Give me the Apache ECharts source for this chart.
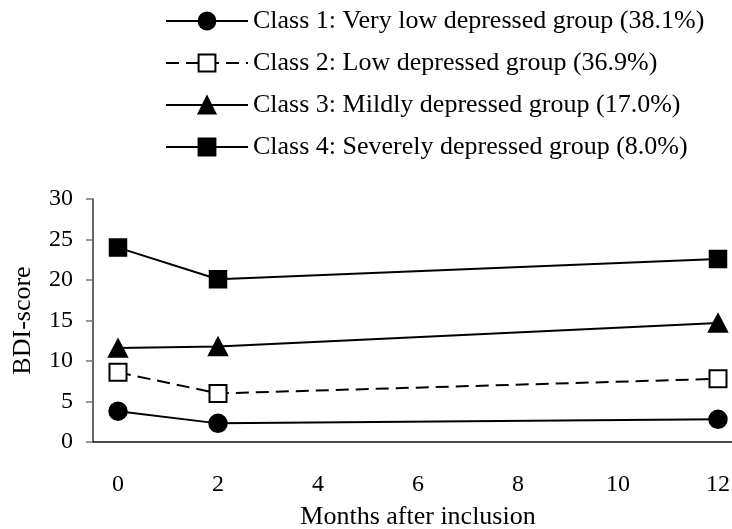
<!DOCTYPE html>
<html>
<head>
<meta charset="utf-8">
<script src="https://cdn.jsdelivr.net/npm/echarts@6/dist/echarts.min.js"></script>
<style>
html, body { margin: 0; padding: 0; background: #fff; }
#chart { width: 732px; height: 529px; }
</style>
</head>
<body>
<div id="chart"></div>
<script>
var months = ['0', '1', '2', '3', '4', '5', '6', '7', '8', '9', '10', '11', '12'];
var measured = ['0', '2', '12'];

var names = [
    'Class 1: Very low depressed group (38.1%)',
    'Class 2: Low depressed group (36.9%)',
    'Class 3: Mildly depressed group (17.0%)',
    'Class 4: Severely depressed group (8.0%)'
];
var class1 = [3.8, 2.3, 2.8];
var class2 = [8.6, 6.0, 7.8];
var class3 = [11.6, 11.8, 14.7];
var class4 = [24.0, 20.1, 22.6];

var FONT = '"Liberation Serif", "Times New Roman", serif';

function pairs(vals) {
    return measured.map(function (m, i) { return [m, vals[i]]; });
}

function makeSeries(name, vals, symbol, size, dashed) {
    return {
        name: name,
        type: 'line',
        data: pairs(vals),
        symbol: symbol,
        symbolSize: size,
        color: '#000',
        lineStyle: { color: '#000', width: 2, type: dashed ? [13, 7] : 'solid' },
        itemStyle: { color: '#000', borderColor: '#000', borderWidth: 1.5 }
    };
}

var dom = document.getElementById('chart');
var chart = echarts.init(dom, null, { renderer: 'canvas' });

var option = {
    animation: false,
    legend: {
        orient: 'vertical',
        left: 165,
        top: 8,
        padding: 0,
        itemWidth: 82,
        itemHeight: 21,
        itemGap: 16,
        data: names,
        textStyle: { fontFamily: FONT, fontSize: 26, color: '#000' }
    },
    grid: { left: 93, top: 199, width: 650, height: 243, outerBoundsMode: 'none', containLabel: false },
    xAxis: {
        type: 'category',
        data: months,
        boundaryGap: true,
        name: 'Months after inclusion',
        nameLocation: 'middle',
        nameGap: 62,
        nameTextStyle: { fontFamily: FONT, fontSize: 26, color: '#000' },
        axisLine: { lineStyle: { color: '#111', width: 1.5 } },
        axisTick: { interval: 1, length: 7, lineStyle: { color: '#777', width: 1.5 } },
        axisLabel: { interval: 1, margin: 31, fontFamily: FONT, fontSize: 24, color: '#000' },
        splitLine: { show: false }
    },
    yAxis: {
        type: 'value',
        min: 0,
        max: 30,
        interval: 5,
        name: 'BDI-score',
        nameLocation: 'middle',
        nameRotate: 90,
        nameGap: 57,
        nameTextStyle: { fontFamily: FONT, fontSize: 26, color: '#000' },
        axisLine: { show: true, lineStyle: { color: '#333', width: 1.5 } },
        axisTick: { show: true, length: 7, lineStyle: { color: '#777', width: 1.5 } },
        axisLabel: { margin: 20, fontFamily: FONT, fontSize: 24, color: '#000' },
        splitLine: { show: false }
    },
    series: [
        makeSeries(names[0], class1, 'circle', 18, false),
        makeSeries(names[1], class2, 'emptyRect', 17, true),
        makeSeries(names[2], class3, 'triangle', [19, 18], false),
        makeSeries(names[3], class4, 'rect', 17, false)
    ]
};

chart.setOption(option);
window.addEventListener('resize', chart.resize);
</script>
</body>
</html>
